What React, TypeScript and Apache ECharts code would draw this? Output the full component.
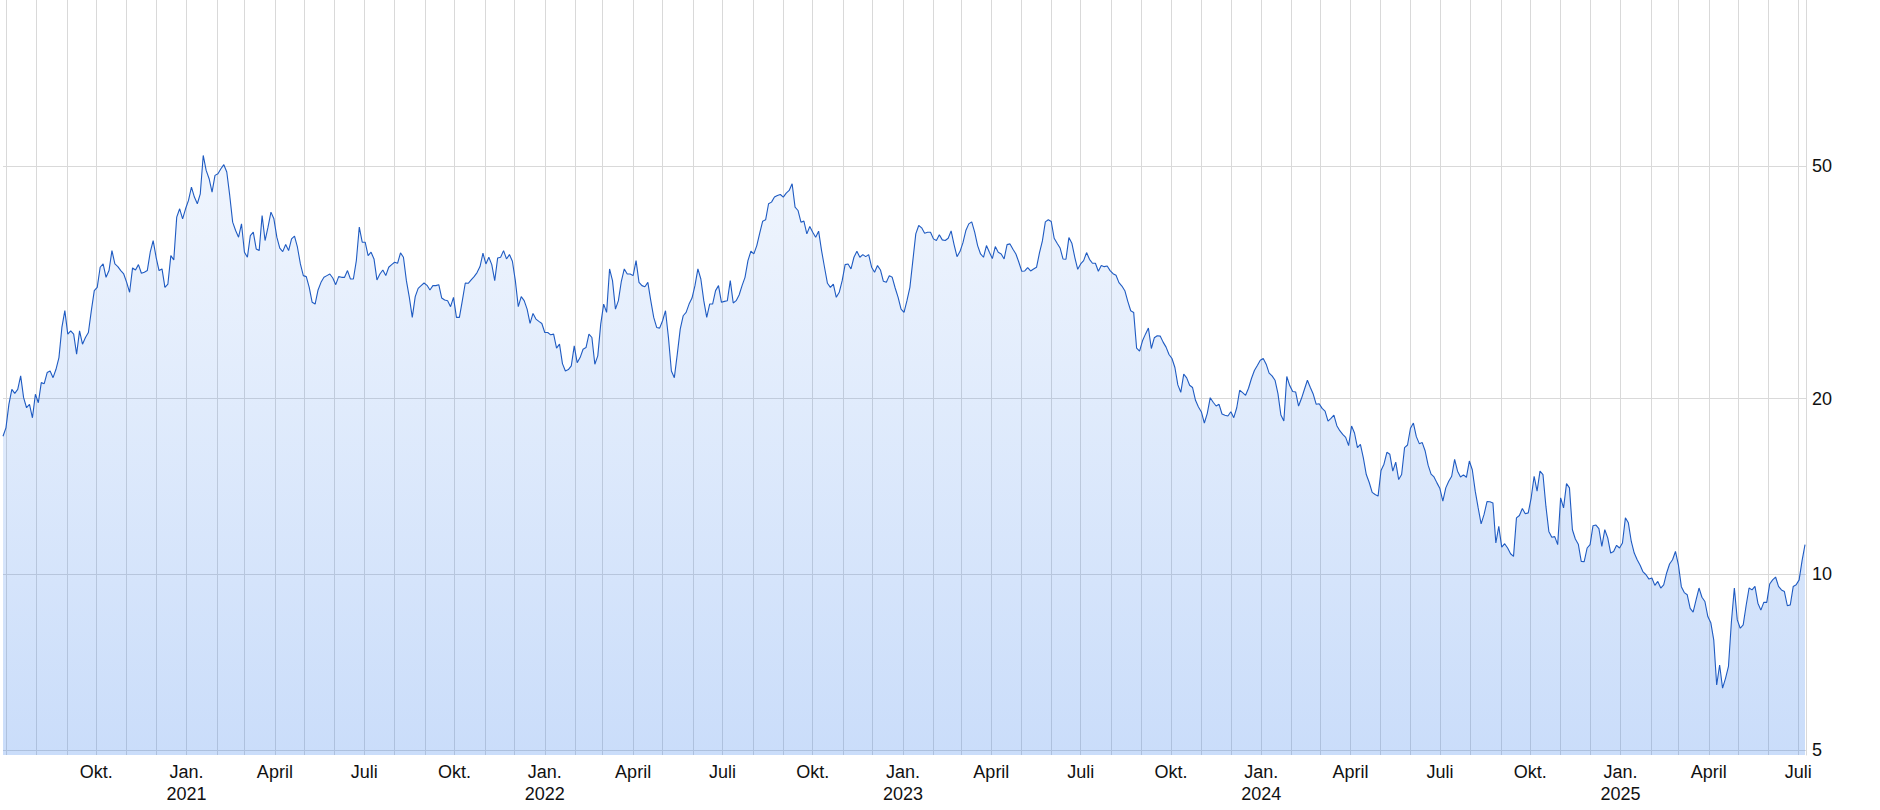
import React, { useEffect, useRef } from "react";
import * as echarts from "echarts";

// Sampling grid of the price line: every 3 calendar days from 28 June 2020
const START_YEAR = 2020;
const START_MONTH = 5; // June (0-based)
const START_DAY = 28;
const STEP_DAYS = 3;

const prices: number[] = [
  17.24, 17.82, 19.55, 20.74, 20.42, 20.74, 21.87, 20.07, 19.29, 19.55,
  18.54, 20.34, 19.67, 21.3, 21.21, 22.16, 22.3, 21.72, 22.45, 23.51,
  26.48, 28.29, 25.79, 26.13, 25.79, 23.83, 26.13, 24.79, 25.45, 25.96,
  28.29, 30.62, 31.02, 33.58, 34.02, 32.27, 33.14, 35.86, 34.02, 33.67,
  33.14, 32.7, 31.64, 30.42, 33.49, 33.22, 33.93, 32.79, 32.92, 33.14,
  35.63, 37.31, 34.93, 33.14, 33.36, 31.02, 31.43, 35.16, 34.57, 40.92,
  42.29, 40.65, 42.29, 43.71, 46.07, 44.29, 43.14, 44.87, 52.2, 49.21,
  47.62, 45.17, 48.25, 48.57, 49.54, 50.33, 48.89, 44.58, 40.12, 38.82,
  37.81, 39.86, 35.63, 34.93, 38.06, 38.56, 36.1, 35.86, 41.19, 37.31,
  39.34, 41.74, 40.65, 37.81, 36.2, 35.72, 36.73, 35.86, 37.56, 37.96,
  36.34, 34.02, 32.49, 32.36, 31.02, 29.24, 29.04, 30.7, 31.64, 32.27,
  32.49, 32.7, 32.19, 31.35, 32.36, 32.27, 32.27, 33.14, 32.06, 32.06,
  34.47, 39.34, 37.07, 37.07, 35.16, 35.63, 34.7, 31.94, 32.7, 33.22,
  32.49, 33.58, 33.93, 34.25, 34.11, 35.54, 34.93, 31.85, 29.82, 27.55,
  29.9, 30.9, 31.23, 31.56, 31.27, 30.7, 31.23, 31.23, 31.35, 29.74,
  29.51, 29.43, 28.74, 29.82, 27.55, 27.55, 29.43, 31.56, 31.52, 31.94,
  32.36, 32.88, 33.67, 35.49, 34.02, 34.93, 33.93, 31.85, 34.84, 34.93,
  35.86, 34.7, 35.3, 34.38, 31.85, 28.74, 29.9, 29.43, 28.47, 26.9,
  27.99, 27.37, 27.12, 26.9, 25.96, 25.96, 25.72, 25.79, 24.4, 24.79,
  22.96, 22.3, 22.42, 22.75, 24.62, 23.05, 23.51, 24.3, 24.46, 25.79,
  25.45, 22.9, 23.67, 26.83, 29.04, 28.1, 33.36, 31.85, 28.47, 29.43,
  31.77, 33.36, 32.7, 32.7, 32.49, 34.47, 31.64, 31.23, 31.1, 31.64,
  29.43, 27.55, 26.48, 26.41, 27.19, 28.29, 25.45, 22.3, 21.72, 23.83,
  26.31, 27.73, 28.1, 29.04, 29.74, 31.23, 33.36, 32.06, 29.43, 27.55,
  29.04, 29.04, 30.62, 31.23, 29.24, 29.35, 29.43, 31.85, 29.16, 29.43,
  30.1, 31.23, 32.27, 34.47, 35.77, 35.4, 36.58, 38.41, 40.28, 40.49,
  43.14, 43.42, 44.29, 44.58, 44.75, 44.29, 44.99, 45.47, 46.69, 42.57,
  42.01, 40.12, 40.28, 38.31, 39.44, 38.56, 37.81, 38.72, 35.86, 33.58,
  31.52, 31.02, 31.43, 29.82, 30.42, 31.85, 33.93, 34.02, 33.36, 34.93,
  35.77, 34.93, 35.3, 35.02, 35.3, 33.58, 32.92, 33.8, 33.22, 31.77,
  31.64, 32.49, 32.27, 30.94, 29.82, 28.47, 28.1, 29.43, 31.02, 34.47,
  38.31, 39.6, 39.23, 38.41, 38.56, 38.56, 37.56, 37.31, 38.16,
  37.41, 37.31, 37.65, 38.76, 36.72, 35.02, 35.72, 36.96, 38.81, 39.85,
  40.17, 38.56, 36.58, 35.39, 34.93, 36.58, 35.62, 34.75, 36.43, 35.62,
  35.39, 34.7, 36.72, 36.82, 36.05, 35.39, 34.25, 33.05, 33.09, 33.53,
  33.09, 33.35, 33.57, 35.53, 37.26, 40.17, 40.49, 40.22, 37.65, 36.92,
  36.24, 34.7, 34.65, 37.75, 36.92, 34.93, 33.31, 34.02, 34.47, 35.58,
  34.65, 34.11, 34.11, 33.05, 33.8, 33.66, 33.75, 33.14, 32.74, 32.53,
  31.6, 31.18, 30.61, 29.35, 28.28, 28.1, 24.4, 24.11, 25.12, 25.79,
  26.41, 24.37, 25.42, 25.62, 25.59, 24.99, 24.5, 23.8, 23.43, 22.61,
  21.11, 20.5, 22.02, 21.7, 21.08, 20.89, 19.86, 19.35, 18.97, 18.16,
  18.87, 20.07, 19.71, 19.42, 19.55, 18.82, 18.72, 18.67, 18.99, 18.55,
  19.29, 20.67, 20.47, 20.26, 20.83, 21.65, 22.34, 22.79, 23.27, 23.43,
  22.91, 22.11, 21.87, 21.5, 20.39, 18.74, 18.3, 21.82, 21.05, 20.56,
  20.53, 19.42, 20.02, 20.75, 21.5, 20.89, 20.34, 19.55, 19.6, 19.24,
  19.04, 18.3, 18.5, 18.74, 17.97, 17.62, 17.37, 17.16, 16.61, 17.95,
  17.46, 16.48, 16.7, 15.83, 14.82, 14.36, 13.81, 13.7, 13.61, 15.06,
  15.44, 16.18, 16.05, 15.02, 15.56, 14.53, 14.82, 16.48, 16.65, 17.79,
  18.16, 17.21, 16.74, 16.81, 16.26, 15.38, 14.84, 14.68, 14.34, 14.02,
  13.34, 14.06, 14.43, 14.72, 15.73, 15.02, 14.68, 14.8, 14.66, 15.63,
  15.1, 13.88, 12.99, 12.2, 12.66, 13.32, 13.31, 13.25, 11.31, 12.08,
  11.13, 11.28, 11.09, 10.84, 10.73, 12.49, 12.61, 12.96, 12.69, 12.74,
  13.52, 14.72, 13.88, 15.02, 14.82, 13.08, 11.84, 11.57, 11.6, 11.24,
  13.52, 12.99, 14.3, 14.06, 11.92, 11.49, 11.26, 10.52, 10.51, 11.09,
  11.24, 12.11, 12.14, 11.97, 11.16, 11.92, 11.54, 10.87, 10.94, 11.21,
  11.09, 11.31, 12.49, 12.25, 11.38, 10.87, 10.59, 10.36, 10.09, 9.98,
  9.81, 9.85, 9.57, 9.72, 9.47, 9.59, 10.05, 10.41, 10.59, 10.94,
  10.38, 9.52, 9.3, 9.22, 8.74, 8.61, 9.04, 9.47, 9.13, 8.98,
  8.46, 8.26, 7.72, 6.46, 6.99, 6.38, 6.63, 6.95, 8.29, 9.47,
  8.35, 8.08, 8.19, 8.84, 9.47, 9.4, 9.53, 8.92, 8.68, 8.95,
  8.95, 9.62, 9.78, 9.89, 9.53, 9.4, 9.34, 8.83, 8.86, 9.53,
  9.59, 9.78, 10.55, 11.24,
];

// Axis content
const yTickValues = [5, 10, 20, 50];
const Y_MIN = 4.9;
const Y_MAX = 96.4;
const quarterLabels: Record<number, string> = { 0: "Jan.", 3: "April", 6: "Juli", 9: "Okt." };
const FIRST_GRID_MONTH = [2020, 6]; // July 2020
const LAST_GRID_MONTH = [2025, 6]; // July 2025
const X_MIN = [2020, 5, 28];
const X_MAX = [2025, 6, 9];

export default function App() {
  const ref = useRef<HTMLDivElement>(null);

  useEffect(() => {
    if (!ref.current) return;
    const chart = echarts.init(ref.current, undefined, { renderer: "svg" });

    const seriesData = prices.map((v, i) => [
      new Date(START_YEAR, START_MONTH, START_DAY + i * STEP_DAYS).getTime(),
      v,
    ]);

    const monthTicks: number[] = [];
    const quarterTicks: number[] = [];
    {
      let y = FIRST_GRID_MONTH[0];
      let m = FIRST_GRID_MONTH[1];
      while (y < LAST_GRID_MONTH[0] || (y === LAST_GRID_MONTH[0] && m <= LAST_GRID_MONTH[1])) {
        const t = new Date(y, m, 1).getTime();
        monthTicks.push(t);
        if (m % 3 === 0 && !(y === 2020 && m === 6)) quarterTicks.push(t);
        m++;
        if (m > 11) {
          m = 0;
          y++;
        }
      }
    }

    const font = "'Liberation Sans', Arial, sans-serif";

    chart.setOption({
      animation: false,
      grid: { left: 3, right: 74, top: 0, bottom: 55, containLabel: false },
      xAxis: {
        type: "value",
        min: new Date(X_MIN[0], X_MIN[1], X_MIN[2]).getTime(),
        max: new Date(X_MAX[0], X_MAX[1], X_MAX[2]).getTime(),
        axisLine: { show: false },
        axisTick: { show: false, customValues: monthTicks },
        splitLine: { show: true, lineStyle: { color: "#d9d9d9", width: 1 } },
        axisLabel: {
          customValues: quarterTicks,
          fontSize: 18,
          lineHeight: 22,
          color: "#111",
          fontFamily: font,
          margin: 6,
          hideOverlap: false,
          showMinLabel: true,
          showMaxLabel: true,
          formatter: (value: number) => {
            const d = new Date(value);
            const label = quarterLabels[d.getMonth()] ?? "";
            return d.getMonth() === 0 ? label + "\n" + d.getFullYear() : label;
          },
        },
      },
      yAxis: {
        type: "log",
        logBase: 10,
        position: "right",
        min: Y_MIN,
        max: Y_MAX,
        axisLine: { show: true, lineStyle: { color: "#d9d9d9", width: 1 } },
        axisTick: { show: false, customValues: yTickValues },
        splitLine: { show: true, lineStyle: { color: "#d9d9d9", width: 1 } },
        axisLabel: {
          customValues: yTickValues,
          fontSize: 18,
          color: "#111",
          fontFamily: font,
          margin: 6,
          formatter: (v: number) => String(Math.round(v)),
        },
      },
      series: [
        {
          type: "line",
          data: seriesData,
          showSymbol: false,
          symbol: "none",
          lineStyle: { color: "#1f5bc2", width: 1.1 },
          areaStyle: {
            origin: "start",
            color: new echarts.graphic.LinearGradient(0, 0, 0, 1, [
              { offset: 0, color: "rgba(45,120,235,0.10)" },
              { offset: 1, color: "rgba(45,120,235,0.36)" },
            ]),
          },
        },
      ],
    });

    return () => chart.dispose();
  }, []);

  return (
    <div
      ref={ref}
      style={{ position: "absolute", left: 0, top: 0, width: 1880, height: 810, background: "#fff" }}
    />
  );
}
